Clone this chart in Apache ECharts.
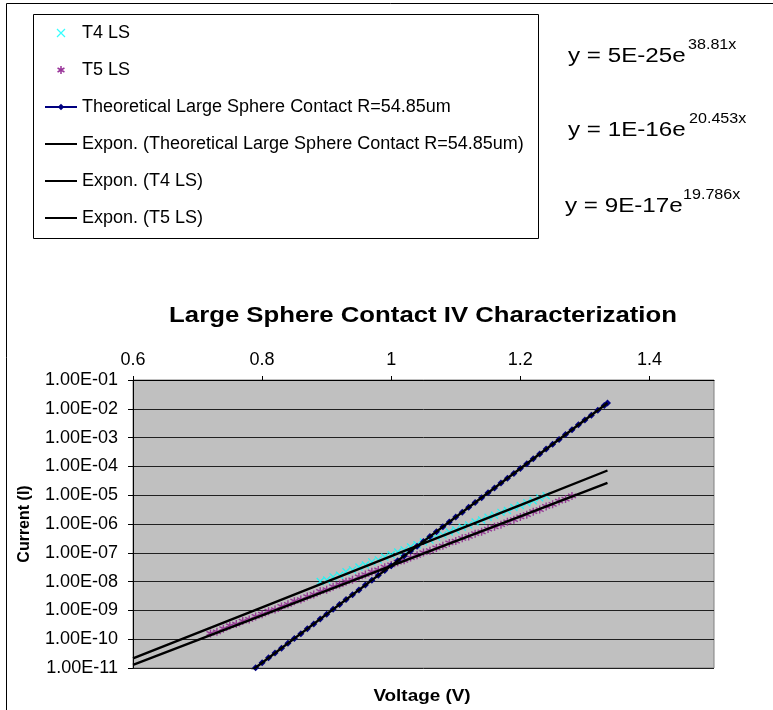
<!DOCTYPE html>
<html><head><meta charset="utf-8">
<script src="https://cdn.jsdelivr.net/npm/echarts@6/dist/echarts.min.js"></script>
<style>html,body{margin:0;padding:0;background:#fff}#c{width:773px;height:710px}</style>
</head><body><div id="c"></div>
<script>
const FONT = '"Liberation Sans", Arial, sans-serif';
const chartTitle = 'Large Sphere Contact IV Characterization';
const xAxisName = 'Voltage (V)';
const yAxisName = 'Current (I)';
const xTickValues = [0.6, 0.8, 1.0, 1.2, 1.4];
const yTickLabels = ['1.00E-11','1.00E-10','1.00E-09','1.00E-08','1.00E-07','1.00E-06','1.00E-05','1.00E-04','1.00E-03','1.00E-02','1.00E-01'];
const seriesNames = ['T4 LS','T5 LS','Theoretical Large Sphere Contact R=54.85um','Expon. (Theoretical Large Sphere Contact R=54.85um)','Expon. (T4 LS)','Expon. (T5 LS)'];
const equations = [['y = 5E-25e','38.81x'],['y = 1E-16e','20.453x'],['y = 9E-17e','19.786x']];

const t4Voltage = [0.89,0.90,0.91,0.92,0.93,0.94,0.95,0.96,0.97,0.98,0.99,1.00,1.01,1.02,1.03,1.04,1.05,1.06,1.07,1.08,1.09,1.10,1.11,1.12,1.13,1.14,1.15,1.16,1.17,1.18,1.19,1.20,1.21,1.22,1.23,1.24];
const t4Current = [1.01e-8,1.13e-8,1.46e-8,1.67e-8,2.19e-8,2.56e-8,3.22e-8,3.78e-8,4.85e-8,5.69e-8,
  7.14e-8,8.57e-8,1.07e-7,1.26e-7,1.58e-7,1.90e-7,2.38e-7,2.79e-7,3.50e-7,4.20e-7,
  5.27e-7,6.18e-7,7.76e-7,9.31e-7,1.17e-6,1.37e-6,1.72e-6,2.01e-6,2.53e-6,2.96e-6,
  3.72e-6,4.37e-6,5.47e-6,6.41e-6,8.05e-6,9.66e-6];

const t5Voltage = [0.72,0.73,0.74,0.75,0.76,0.77,0.78,0.79,0.80,0.81,0.82,0.83,0.84,0.85,0.86,0.87,0.88,0.89,0.90,0.91,0.92,0.93,0.94,0.95,0.96,0.97,0.98,0.99,1.00,1.01,1.02,1.03,1.04,1.05,1.06,1.07,1.08,1.09,1.10,1.11,1.12,1.13,1.14,1.15,1.16,1.17,1.18,1.19,1.20,1.21,1.22,1.23,1.24,1.25,1.26,1.27,1.28];
const t5Current = [1.58e-10,1.81e-10,2.31e-10,2.94e-10,3.35e-10,4.28e-10,4.85e-10,6.19e-10,7.38e-10,9.42e-10,
  1.07e-9,1.37e-9,1.63e-9,2.08e-9,2.37e-9,3.02e-9,3.60e-9,4.59e-9,5.22e-9,6.67e-9,
  7.93e-9,9.89e-9,1.15e-8,1.47e-8,1.75e-8,2.18e-8,2.54e-8,3.17e-8,3.78e-8,4.71e-8,
  5.48e-8,6.84e-8,8.15e-8,1.02e-7,1.18e-7,1.47e-7,1.75e-7,2.19e-7,2.55e-7,3.18e-7,
  3.70e-7,4.61e-7,5.37e-7,6.70e-7,7.98e-7,9.51e-7,1.19e-6,1.41e-6,1.76e-6,2.10e-6,
  2.67e-6,3.18e-6,4.06e-6,4.84e-6,6.18e-6,7.36e-6,9.40e-6];

const theoVoltage = [0.78,0.79,0.80,0.81,0.82,0.83,0.84,0.85,0.86,0.87,0.88,0.89,0.90,0.91,0.92,0.93,0.94,0.95,0.96,0.97,0.98,0.99,1.00,1.01,1.02,1.03,1.04,1.05,1.06,1.07,1.08,1.09,1.10,1.11,1.12,1.13,1.14,1.15,1.16,1.17,1.18,1.19,1.20,1.21,1.22,1.23,1.24,1.25,1.26,1.27,1.28,1.29,1.30,1.31,1.32,1.33,1.335];
const theoCurrent = [7.0e-12,1.03e-11,1.52e-11,2.25e-11,3.31e-11,4.89e-11,7.19e-11,1.06e-10,1.56e-10,2.31e-10,3.40e-10,5.01e-10,7.39e-10,
  1.09e-9,1.61e-9,2.37e-9,3.49e-9,5.15e-9,7.59e-9,1.12e-8,1.65e-8,2.43e-8,3.58e-8,5.28e-8,7.79e-8,
  1.15e-7,1.69e-7,2.49e-7,3.68e-7,5.42e-7,8.00e-7,1.18e-6,1.74e-6,2.56e-6,3.78e-6,5.56e-6,8.20e-6,
  1.21e-5,1.78e-5,2.63e-5,3.88e-5,5.71e-5,8.42e-5,1.24e-4,1.83e-4,2.70e-4,3.98e-4,5.86e-4,8.65e-4,
  1.27e-3,1.88e-3,2.77e-3,4.08e-3,6.02e-3,8.87e-3,1.31e-2,1.58e-2];

const theoTrendVoltage = [0.78, 1.0, 1.2, 1.335];
const theoTrendCurrent = [7.0e-12, 3.58e-8, 8.42e-5, 1.58e-2];
const t4TrendVoltage = [0.6, 0.8, 1.0, 1.2, 1.335];
const t4TrendCurrent = [2.14e-11, 1.28e-9, 7.63e-8, 4.56e-6, 7.21e-5];
const t5TrendVoltage = [0.6, 0.8, 1.0, 1.2, 1.335];
const t5TrendCurrent = [1.29e-11, 6.73e-10, 3.52e-8, 1.85e-6, 2.67e-5];

const pair = (xs, ys) => xs.map((x, i) => [x, ys[i]]);
const X_PATH = 'path://M0,0L10,10M10,0L0,10';
const STAR_PATH = 'path://M5,0L5,10M0.7,2.5L9.3,7.5M0.7,7.5L9.3,2.5';
const BAR_ICON = 'path://M0,0L32,0L32,2L0,2Z';

const chart = echarts.init(document.getElementById('c'), null, {renderer: 'canvas'});

const eqY = [56, 130, 206];
const eqX = [568, 568, 565];
const eqSupX = [688, 689, 683];
const graphics = [
  {type: 'rect', shape: {x: 6.5, y: 3.5, width: 820, height: 820}, style: {fill: 'none', stroke: '#000', lineWidth: 1}, silent: true},
  {type: 'rect', shape: {x: 33.5, y: 14.5, width: 505, height: 224}, style: {fill: 'none', stroke: '#000', lineWidth: 1}, silent: true},
  {type: 'text', x: 423, y: 316, scaleX: 1.17, style: {text: chartTitle, font: 'bold 22px ' + FONT, fill: '#000', align: 'center', verticalAlign: 'middle'}},
  {type: 'text', x: 422, y: 697, scaleX: 1.18, style: {text: xAxisName, font: 'bold 16px ' + FONT, fill: '#000', align: 'center', verticalAlign: 'middle'}}
];
equations.forEach((eq, i) => {
  graphics.push({type: 'text', x: eqX[i], y: eqY[i], scaleX: 1.21, style: {text: eq[0], font: '20px ' + FONT, fill: '#000', align: 'left', verticalAlign: 'middle'}});
  graphics.push({type: 'text', x: eqSupX[i], y: eqY[i] - 11, scaleX: 1.15, style: {text: eq[1], font: '14px ' + FONT, fill: '#000', align: 'left', verticalAlign: 'middle'}});
});

const option = {
  animation: false,
  backgroundColor: '#fff',
  textStyle: {fontFamily: FONT},
  legend: {
    orient: 'vertical', left: 44, top: 24, padding: 0,
    itemWidth: 32, itemHeight: 8, itemGap: 19,
    textStyle: {fontSize: 18, lineHeight: 18, color: '#000', fontFamily: FONT},
    selectedMode: false,
    data: [
      {name: seriesNames[0], icon: X_PATH, itemStyle: {color: 'rgba(0,0,0,0)', borderColor: '#00FFFF', borderWidth: 1.2}},
      {name: seriesNames[1], icon: STAR_PATH, itemStyle: {color: 'rgba(0,0,0,0)', borderColor: '#800080', borderWidth: 1.5}},
      {name: seriesNames[2]},
      {name: seriesNames[3], icon: BAR_ICON, itemStyle: {color: '#000', borderWidth: 0}},
      {name: seriesNames[4], icon: BAR_ICON, itemStyle: {color: '#000', borderWidth: 0}},
      {name: seriesNames[5], icon: BAR_ICON, itemStyle: {color: '#000', borderWidth: 0}}
    ]
  },
  graphic: graphics,
  grid: {left: 133, top: 380, right: 59, bottom: 42, show: true, backgroundColor: '#C0C0C0', borderColor: '#808080', borderWidth: 1, containLabel: false, outerBoundsMode: 'none'},
  xAxis: {
    type: 'value', position: 'top', min: 0.6, max: 1.5, interval: 0.2,
    axisLine: {show: true, onZero: false, lineStyle: {color: '#000', width: 1}},
    axisTick: {show: true, length: 4, lineStyle: {color: '#000'}, customValues: xTickValues},
    axisLabel: {color: '#000', fontSize: 18, margin: 11, customValues: xTickValues, formatter: v => String(+v.toFixed(1))},
    splitLine: {show: false}
  },
  yAxis: {
    type: 'log', logBase: 10, min: 1e-11, max: 1e-1, interval: 1,
    name: yAxisName, nameLocation: 'middle', nameRotate: 90, nameGap: 100,
    nameTextStyle: {fontSize: 16, fontWeight: 'bold', color: '#000', fontFamily: FONT},
    axisLine: {show: true, lineStyle: {color: '#000', width: 1}},
    axisTick: {show: true, length: 5, lineStyle: {color: '#000'}},
    minorTick: {show: false},
    axisLabel: {color: '#000', fontSize: 18, margin: 15, formatter: v => {
      const e = Math.round(Math.log10(v));
      return yTickLabels[e + 11] || '';
    }},
    splitLine: {show: true, lineStyle: {color: '#202020', width: 1}}
  },
  series: [
    {name: seriesNames[0], type: 'scatter', data: pair(t4Voltage, t4Current), symbol: X_PATH, symbolSize: 7,
     itemStyle: {color: 'rgba(0,0,0,0)', borderColor: '#00FFFF', borderWidth: 1.3}, emphasis: {disabled: true}, z: 2},
    {name: seriesNames[1], type: 'scatter', data: pair(t5Voltage, t5Current), symbol: STAR_PATH, symbolSize: 8,
     itemStyle: {color: 'rgba(0,0,0,0)', borderColor: '#8B1A8B', borderWidth: 1.4}, emphasis: {disabled: true}, z: 2},
    {name: seriesNames[2], type: 'line', data: pair(theoVoltage, theoCurrent), symbol: 'diamond', symbolSize: 7, showAllSymbol: true,
     lineStyle: {color: '#000080', width: 1}, itemStyle: {color: '#000080'}, emphasis: {disabled: true}, z: 3},
    {name: seriesNames[3], type: 'line', data: pair(theoTrendVoltage, theoTrendCurrent), showSymbol: false, symbol: 'none',
     lineStyle: {color: '#000', width: 2.4}, itemStyle: {color: '#000'}, emphasis: {disabled: true}, z: 4},
    {name: seriesNames[4], type: 'line', data: pair(t4TrendVoltage, t4TrendCurrent), showSymbol: false, symbol: 'none',
     lineStyle: {color: '#000', width: 2.4}, itemStyle: {color: '#000'}, emphasis: {disabled: true}, z: 4},
    {name: seriesNames[5], type: 'line', data: pair(t5TrendVoltage, t5TrendCurrent), showSymbol: false, symbol: 'none',
     lineStyle: {color: '#000', width: 2.4}, itemStyle: {color: '#000'}, emphasis: {disabled: true}, z: 4}
  ]
};
chart.setOption(option);
</script></body></html>
